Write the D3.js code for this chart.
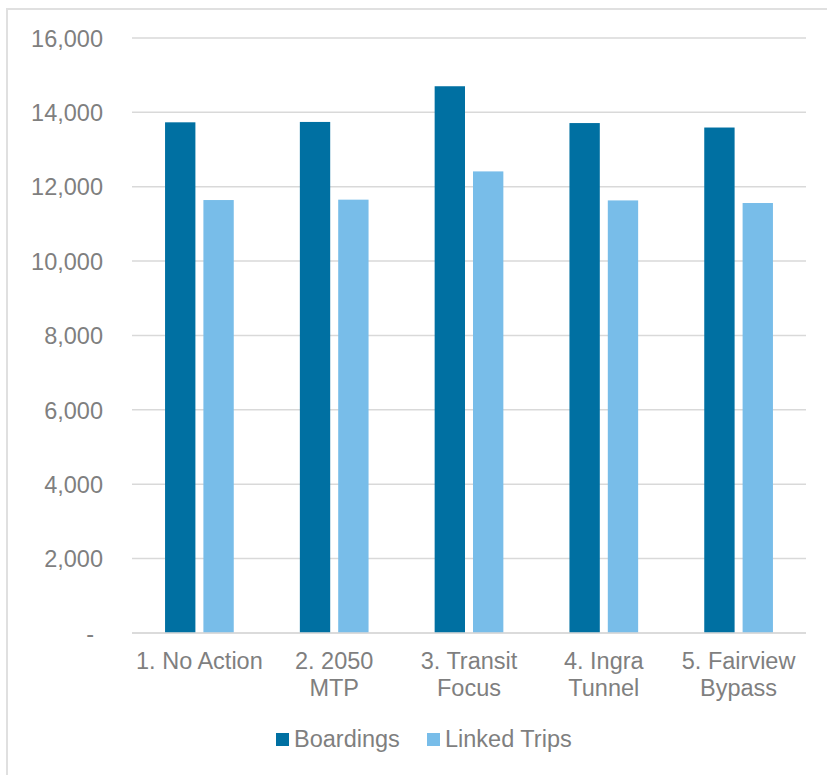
<!DOCTYPE html>
<html>
<head>
<meta charset="utf-8">
<script src="https://cdn.jsdelivr.net/npm/d3@7"></script>
<style>
  html, body { margin: 0; padding: 0; background: #fff; }
  svg { display: block; }
  text { font-family: "Liberation Sans", Arial, sans-serif; fill: #7f7f7f; }
</style>
</head>
<body>
<svg id="chart" width="827" height="775"></svg>
<script>
const categories = [["1. No Action"], ["2. 2050", "MTP"], ["3. Transit", "Focus"], ["4. Ingra", "Tunnel"], ["5. Fairview", "Bypass"]];
const seriesNames = ["Boardings", "Linked Trips"];
const boardings = [13730, 13740, 14700, 13710, 13590];
const linkedTrips = [11640, 11650, 12410, 11630, 11560];
const yTicks = [0, 2000, 4000, 6000, 8000, 10000, 12000, 14000, 16000];
const colors = ["#0070A2", "#78BDE9"];

const svg = d3.select("#chart");
const W = 827, H = 775;
const FS = 23.5;

// outer frame
svg.append("rect").attr("x", 7).attr("y", 9).attr("width", W + 10).attr("height", H + 10)
  .attr("fill", "none").attr("stroke", "#e0e0e0").attr("stroke-width", 2);

const plot = { left: 132, right: 806, top: 37.9, bottom: 632.9 };
const catKeys = categories.map(c => c.join(" "));

const x0 = d3.scaleBand().domain(catKeys).range([plot.left, plot.right]).paddingInner(0).paddingOuter(0);
const groupW = 68.7;
const x1 = d3.scaleBand().domain(seriesNames)
  .range([(x0.bandwidth() - groupW) / 2, (x0.bandwidth() + groupW) / 2])
  .paddingInner(0.2086).paddingOuter(0);
const y = d3.scaleLinear().domain([0, 16000]).range([plot.bottom, plot.top]);

// gridlines
svg.append("g").selectAll("line").data(yTicks).join("line")
  .attr("x1", plot.left).attr("x2", plot.right)
  .attr("y1", d => y(d)).attr("y2", d => y(d))
  .attr("stroke", "#d9d9d9").attr("stroke-width", 1.5);

// y axis labels
const yAxis = d3.axisLeft(y).tickValues(yTicks).tickSize(0).tickPadding(0)
  .tickFormat(d => d === 0 ? "-" : d3.format(",")(d));
const yg = svg.append("g").attr("transform", `translate(${plot.left - 29},0)`).call(yAxis);
yg.select(".domain").remove();
yg.selectAll("text").attr("font-size", FS).attr("fill", "#7f7f7f")
  .style("font-family", "Liberation Sans, Arial, sans-serif")
  .attr("dy", "0.35em");
yg.selectAll(".tick").filter(d => d === 0).select("text").attr("dx", -9);

// bars
const data = catKeys.map((k, i) => ({ key: k, values: [boardings[i], linkedTrips[i]] }));
const groups = svg.append("g").selectAll("g").data(data).join("g")
  .attr("transform", d => `translate(${x0(d.key)},0)`);
groups.selectAll("rect").data(d => d.values.map((v, j) => ({ s: seriesNames[j], v, j })))
  .join("rect")
  .attr("x", d => x1(d.s)).attr("width", x1.bandwidth())
  .attr("y", d => y(d.v)).attr("height", d => y(0) - y(d.v))
  .attr("fill", d => colors[d.j]);

// x axis line
svg.append("line").attr("x1", plot.left).attr("x2", plot.right)
  .attr("y1", y(0)).attr("y2", y(0)).attr("stroke", "#d9d9d9").attr("stroke-width", 1.5);

// x labels
const xl = svg.append("g").selectAll("text").data(categories).join("text")
  .attr("text-anchor", "middle").attr("font-size", FS)
  .attr("x", (d, i) => x0(catKeys[i]) + x0.bandwidth() / 2)
  .attr("y", 668.5);
xl.selectAll("tspan").data(d => d).join("tspan")
  .attr("x", function () { return d3.select(this.parentNode).attr("x"); })
  .attr("dy", (d, i) => i === 0 ? 0 : 27)
  .text(d => d);

// legend
const legendItems = [{ name: seriesNames[0], x: 276 }, { name: seriesNames[1], x: 427 }];
const lg = svg.append("g").selectAll("g").data(legendItems).join("g")
  .attr("transform", d => `translate(${d.x},0)`);
lg.append("rect").attr("x", 0).attr("y", 733).attr("width", 13).attr("height", 13)
  .attr("fill", (d, i) => colors[i]);
lg.append("text").attr("x", 18).attr("y", 746.5).attr("font-size", FS).text(d => d.name);
</script>
</body>
</html>
